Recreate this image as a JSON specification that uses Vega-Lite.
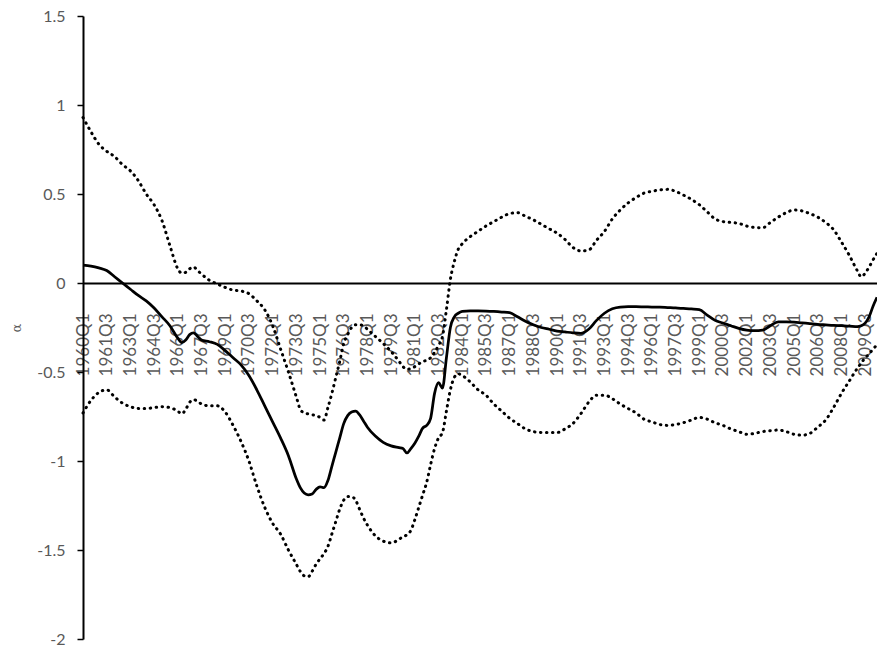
{
  "$schema": "https://vega.github.io/schema/vega-lite/v6.json",
  "width": 794,
  "height": 623,
  "autosize": {"type": "none"},
  "padding": {"left": 83, "top": 16, "right": 0, "bottom": 10},
  "background": "white",
  "config": {"view": {"stroke": null}, "font": "Lato"},
  "data": {"values": [
    {"t":1960.0,"a":0.10,"lo":-0.73,"hi":0.93},
    {"t":1960.5,"a":0.095,"lo":-0.66,"hi":0.85},
    {"t":1961.0,"a":0.085,"lo":-0.615,"hi":0.78},
    {"t":1961.5,"a":0.07,"lo":-0.60,"hi":0.74},
    {"t":1962.0,"a":0.035,"lo":-0.64,"hi":0.71},
    {"t":1962.5,"a":0.0,"lo":-0.675,"hi":0.665},
    {"t":1963.0,"a":-0.035,"lo":-0.695,"hi":0.63},
    {"t":1963.5,"a":-0.07,"lo":-0.705,"hi":0.575},
    {"t":1964.0,"a":-0.10,"lo":-0.705,"hi":0.50},
    {"t":1964.5,"a":-0.14,"lo":-0.70,"hi":0.44},
    {"t":1965.0,"a":-0.19,"lo":-0.695,"hi":0.35},
    {"t":1965.5,"a":-0.24,"lo":-0.70,"hi":0.21},
    {"t":1966.0,"a":-0.31,"lo":-0.72,"hi":0.08},
    {"t":1966.25,"a":-0.335,"lo":-0.735,"hi":0.055},
    {"t":1966.5,"a":-0.32,"lo":-0.71,"hi":0.06},
    {"t":1966.75,"a":-0.29,"lo":-0.67,"hi":0.08},
    {"t":1967.0,"a":-0.28,"lo":-0.655,"hi":0.09},
    {"t":1967.25,"a":-0.30,"lo":-0.665,"hi":0.07},
    {"t":1967.5,"a":-0.32,"lo":-0.68,"hi":0.05},
    {"t":1968.0,"a":-0.33,"lo":-0.69,"hi":0.015},
    {"t":1968.5,"a":-0.345,"lo":-0.69,"hi":-0.005},
    {"t":1969.0,"a":-0.38,"lo":-0.725,"hi":-0.025},
    {"t":1969.5,"a":-0.42,"lo":-0.80,"hi":-0.04},
    {"t":1970.0,"a":-0.46,"lo":-0.89,"hi":-0.045},
    {"t":1970.5,"a":-0.52,"lo":-1.00,"hi":-0.06},
    {"t":1971.0,"a":-0.60,"lo":-1.14,"hi":-0.10},
    {"t":1971.5,"a":-0.69,"lo":-1.26,"hi":-0.15},
    {"t":1972.0,"a":-0.78,"lo":-1.35,"hi":-0.24},
    {"t":1972.5,"a":-0.87,"lo":-1.41,"hi":-0.37},
    {"t":1973.0,"a":-0.97,"lo":-1.50,"hi":-0.50},
    {"t":1973.5,"a":-1.10,"lo":-1.58,"hi":-0.64},
    {"t":1973.75,"a":-1.15,"lo":-1.62,"hi":-0.71},
    {"t":1974.0,"a":-1.18,"lo":-1.645,"hi":-0.73},
    {"t":1974.25,"a":-1.19,"lo":-1.65,"hi":-0.735},
    {"t":1974.5,"a":-1.185,"lo":-1.62,"hi":-0.74},
    {"t":1974.75,"a":-1.16,"lo":-1.58,"hi":-0.745},
    {"t":1975.0,"a":-1.145,"lo":-1.55,"hi":-0.755},
    {"t":1975.25,"a":-1.15,"lo":-1.52,"hi":-0.77},
    {"t":1975.5,"a":-1.11,"lo":-1.48,"hi":-0.70},
    {"t":1975.75,"a":-1.03,"lo":-1.41,"hi":-0.62},
    {"t":1976.0,"a":-0.95,"lo":-1.34,"hi":-0.53},
    {"t":1976.25,"a":-0.87,"lo":-1.27,"hi":-0.44},
    {"t":1976.5,"a":-0.79,"lo":-1.22,"hi":-0.34},
    {"t":1976.75,"a":-0.745,"lo":-1.20,"hi":-0.29},
    {"t":1977.0,"a":-0.725,"lo":-1.20,"hi":-0.25},
    {"t":1977.25,"a":-0.72,"lo":-1.22,"hi":-0.235},
    {"t":1977.5,"a":-0.74,"lo":-1.27,"hi":-0.235},
    {"t":1977.75,"a":-0.775,"lo":-1.32,"hi":-0.24},
    {"t":1978.0,"a":-0.81,"lo":-1.36,"hi":-0.26},
    {"t":1978.5,"a":-0.86,"lo":-1.42,"hi":-0.30},
    {"t":1979.0,"a":-0.895,"lo":-1.45,"hi":-0.34},
    {"t":1979.5,"a":-0.915,"lo":-1.46,"hi":-0.385},
    {"t":1980.0,"a":-0.925,"lo":-1.44,"hi":-0.44},
    {"t":1980.25,"a":-0.93,"lo":-1.425,"hi":-0.47},
    {"t":1980.5,"a":-0.955,"lo":-1.415,"hi":-0.485},
    {"t":1980.75,"a":-0.93,"lo":-1.39,"hi":-0.48},
    {"t":1981.0,"a":-0.90,"lo":-1.33,"hi":-0.47},
    {"t":1981.25,"a":-0.86,"lo":-1.26,"hi":-0.455},
    {"t":1981.5,"a":-0.815,"lo":-1.19,"hi":-0.44},
    {"t":1981.75,"a":-0.80,"lo":-1.12,"hi":-0.435},
    {"t":1982.0,"a":-0.76,"lo":-1.02,"hi":-0.42},
    {"t":1982.25,"a":-0.62,"lo":-0.93,"hi":-0.39},
    {"t":1982.5,"a":-0.56,"lo":-0.87,"hi":-0.35},
    {"t":1982.75,"a":-0.59,"lo":-0.84,"hi":-0.30},
    {"t":1983.0,"a":-0.42,"lo":-0.72,"hi":-0.15},
    {"t":1983.25,"a":-0.25,"lo":-0.60,"hi":0.02},
    {"t":1983.5,"a":-0.19,"lo":-0.53,"hi":0.12},
    {"t":1983.75,"a":-0.17,"lo":-0.51,"hi":0.19},
    {"t":1984.0,"a":-0.16,"lo":-0.52,"hi":0.22},
    {"t":1984.5,"a":-0.157,"lo":-0.555,"hi":0.26},
    {"t":1985.0,"a":-0.157,"lo":-0.60,"hi":0.29},
    {"t":1985.5,"a":-0.158,"lo":-0.63,"hi":0.32},
    {"t":1986.0,"a":-0.16,"lo":-0.68,"hi":0.345},
    {"t":1986.5,"a":-0.163,"lo":-0.72,"hi":0.37},
    {"t":1987.0,"a":-0.167,"lo":-0.76,"hi":0.39},
    {"t":1987.5,"a":-0.19,"lo":-0.79,"hi":0.395},
    {"t":1988.0,"a":-0.215,"lo":-0.82,"hi":0.375},
    {"t":1988.5,"a":-0.235,"lo":-0.835,"hi":0.355},
    {"t":1989.0,"a":-0.25,"lo":-0.84,"hi":0.33},
    {"t":1989.5,"a":-0.26,"lo":-0.84,"hi":0.305},
    {"t":1990.0,"a":-0.27,"lo":-0.84,"hi":0.28},
    {"t":1990.5,"a":-0.275,"lo":-0.82,"hi":0.245},
    {"t":1991.0,"a":-0.28,"lo":-0.79,"hi":0.20},
    {"t":1991.5,"a":-0.283,"lo":-0.735,"hi":0.18},
    {"t":1992.0,"a":-0.26,"lo":-0.67,"hi":0.185},
    {"t":1992.5,"a":-0.21,"lo":-0.63,"hi":0.24},
    {"t":1993.0,"a":-0.17,"lo":-0.63,"hi":0.29},
    {"t":1993.5,"a":-0.145,"lo":-0.65,"hi":0.36},
    {"t":1994.0,"a":-0.135,"lo":-0.68,"hi":0.41},
    {"t":1994.5,"a":-0.133,"lo":-0.705,"hi":0.45},
    {"t":1995.0,"a":-0.133,"lo":-0.73,"hi":0.48},
    {"t":1995.5,"a":-0.134,"lo":-0.765,"hi":0.505},
    {"t":1996.0,"a":-0.135,"lo":-0.78,"hi":0.515},
    {"t":1996.5,"a":-0.136,"lo":-0.795,"hi":0.523},
    {"t":1997.0,"a":-0.138,"lo":-0.80,"hi":0.526},
    {"t":1997.5,"a":-0.14,"lo":-0.795,"hi":0.515},
    {"t":1998.0,"a":-0.143,"lo":-0.785,"hi":0.494},
    {"t":1998.5,"a":-0.146,"lo":-0.77,"hi":0.47},
    {"t":1999.0,"a":-0.15,"lo":-0.755,"hi":0.44},
    {"t":1999.5,"a":-0.18,"lo":-0.765,"hi":0.40},
    {"t":2000.0,"a":-0.21,"lo":-0.785,"hi":0.36},
    {"t":2000.5,"a":-0.225,"lo":-0.80,"hi":0.345},
    {"t":2001.0,"a":-0.24,"lo":-0.82,"hi":0.34},
    {"t":2001.5,"a":-0.255,"lo":-0.835,"hi":0.335},
    {"t":2002.0,"a":-0.265,"lo":-0.85,"hi":0.32},
    {"t":2002.5,"a":-0.268,"lo":-0.845,"hi":0.312},
    {"t":2003.0,"a":-0.265,"lo":-0.835,"hi":0.31},
    {"t":2003.5,"a":-0.24,"lo":-0.83,"hi":0.34},
    {"t":2004.0,"a":-0.218,"lo":-0.826,"hi":0.37},
    {"t":2004.5,"a":-0.218,"lo":-0.835,"hi":0.395},
    {"t":2005.0,"a":-0.22,"lo":-0.85,"hi":0.41},
    {"t":2005.5,"a":-0.224,"lo":-0.855,"hi":0.405},
    {"t":2006.0,"a":-0.228,"lo":-0.845,"hi":0.39},
    {"t":2006.5,"a":-0.232,"lo":-0.81,"hi":0.37},
    {"t":2007.0,"a":-0.235,"lo":-0.77,"hi":0.34},
    {"t":2007.5,"a":-0.238,"lo":-0.70,"hi":0.30},
    {"t":2008.0,"a":-0.24,"lo":-0.62,"hi":0.23},
    {"t":2008.5,"a":-0.242,"lo":-0.55,"hi":0.155},
    {"t":2009.0,"a":-0.245,"lo":-0.48,"hi":0.07},
    {"t":2009.25,"a":-0.24,"lo":-0.45,"hi":0.035},
    {"t":2009.5,"a":-0.225,"lo":-0.42,"hi":0.055},
    {"t":2009.75,"a":-0.19,"lo":-0.40,"hi":0.09},
    {"t":2010.0,"a":-0.13,"lo":-0.37,"hi":0.13},
    {"t":2010.25,"a":-0.08,"lo":-0.35,"hi":0.167}
  ]},
  "encoding": {
    "x": {
      "field": "t", "type": "quantitative",
      "scale": {"domain": [1960, 2010.25], "nice": false, "zero": false},
      "axis": {
        "title": null,
        "orient": "bottom",
        "offset": -356,
        "values": [1960,1961.5,1963,1964.5,1966,1967.5,1969,1970.5,1972,1973.5,1975,1976.5,1978,1979.5,1981,1982.5,1984,1985.5,1987,1988.5,1990,1991.5,1993,1994.5,1996,1997.5,1999,2000.5,2002,2003.5,2005,2006.5,2008,2009.5],
        "labelExpr": "floor(datum.value) + (datum.value % 1 == 0 ? 'Q1' : 'Q3')",
        "labelAngle": 270,
        "labelAlign": "right",
        "labelBaseline": "middle",
        "labelPadding": 30,
        "labelOverlap": false,
        "labelBound": false,
        "labelFlush": false,
        "labelFont": "Lato",
        "labelFontSize": 17,
        "labelColor": "#595959",
        "ticks": true,
        "tickSize": 0,
        "tickOpacity": 0,
        "grid": false,
        "domainColor": "#000000",
        "domainWidth": 2
      }
    }
  },
  "layer": [
    {
      "transform": [{"fold": ["lo", "hi"], "as": ["band", "v"]}],
      "mark": {"type": "line", "color": "#000000", "strokeWidth": 3, "strokeCap": "round", "strokeDash": [0.5, 5.5], "interpolate": "monotone"},
      "encoding": {
        "y": {"field": "v", "type": "quantitative"},
        "detail": {"field": "band"}
      }
    },
    {
      "mark": {"type": "line", "color": "#000000", "strokeWidth": 2.75, "interpolate": "monotone"},
      "encoding": {
        "y": {
          "field": "a", "type": "quantitative",
          "scale": {"domain": [-2, 1.5], "nice": false, "zero": false},
          "axis": {
            "title": "α",
            "titleFont": "DejaVu Serif",
            "titleFontSize": 13,
            "titleFontWeight": "normal",
            "titleColor": "#595959",
            "titlePadding": 13,
            "values": [-2, -1.5, -1, -0.5, 0, 0.5, 1, 1.5],
            "labelExpr": "'' + datum.value",
            "labelFont": "Lato",
            "labelFontSize": 16,
            "labelColor": "#595959",
            "labelPadding": 12,
            "tickSize": 6,
            "tickColor": "#000000",
            "tickWidth": 1.5,
            "grid": false,
            "domainColor": "#000000",
            "domainWidth": 2
          }
        }
      }
    }
  ]
}
